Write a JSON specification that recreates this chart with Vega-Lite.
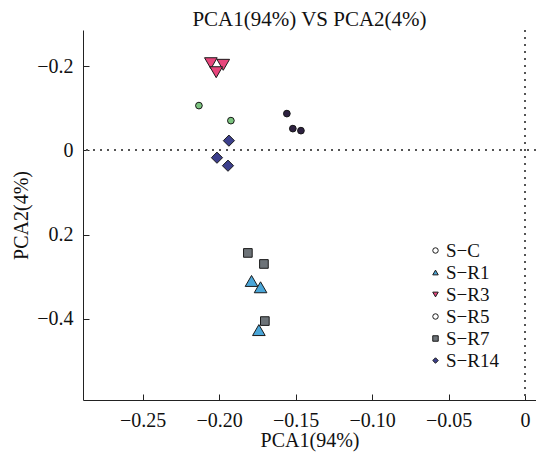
{
  "$schema": "https://vega.github.io/schema/vega-lite/v6.json",
  "width": 453,
  "height": 370,
  "autosize": "none",
  "padding": {"left": 83, "top": 30, "right": 0, "bottom": 60},
  "background": "white",
  "config": {
    "font": "Liberation Serif",
    "view": {"stroke": null},
    "axis": {"grid": false, "domainColor": "#222", "tickColor": "#222", "labelColor": "#111", "titleColor": "#111", "labelFontSize": 20, "titleFontSize": 20, "titleFontWeight": "normal", "labelFont": "Liberation Serif", "titleFont": "Liberation Serif", "tickSize": -6, "labelPadding": 16},
    "legend": {"symbolStrokeWidth": 1}
  },
  "title": {"text": "PCA1(94%) VS PCA2(4%)", "fontSize": 21, "fontWeight": "normal", "font": "Liberation Serif", "color": "#111", "anchor": "middle", "offset": -1},
  "data": {"values": [
    {"group": "S−C", "x": -0.2132, "y": -0.1064},
    {"group": "S−C", "x": -0.1923, "y": -0.0707},
    {"group": "S−R5", "x": -0.1557, "y": -0.0874},
    {"group": "S−R5", "x": -0.1518, "y": -0.0517},
    {"group": "S−R5", "x": -0.1465, "y": -0.0469},
    {"group": "S−R3", "x": -0.2054, "y": -0.2071},
    {"group": "S−R3", "x": -0.1973, "y": -0.2033},
    {"group": "S−R3", "x": -0.2019, "y": -0.1857},
    {"group": "S−R14", "x": -0.1936, "y": -0.0231},
    {"group": "S−R14", "x": -0.2014, "y": 0.0174},
    {"group": "S−R14", "x": -0.1942, "y": 0.0364},
    {"group": "S−R7", "x": -0.1812, "y": 0.2436},
    {"group": "S−R7", "x": -0.1707, "y": 0.2698},
    {"group": "S−R7", "x": -0.1701, "y": 0.4055},
    {"group": "S−R1", "x": -0.1788, "y": 0.3102},
    {"group": "S−R1", "x": -0.1729, "y": 0.3252},
    {"group": "S−R1", "x": -0.1740, "y": 0.4269}
  ]},
  "encoding": {
    "x": {"field": "x", "type": "quantitative",
      "scale": {"domain": [-0.289, 0.0072], "nice": false, "zero": false},
      "axis": {"values": [-0.25, -0.2, -0.15, -0.1, -0.05, 0], "labelExpr": "datum.value == 0 ? '0' : format(datum.value, '.2f')", "title": "PCA1(94%)", "titlePadding": 0}},
    "y": {"field": "y", "type": "quantitative",
      "scale": {"domain": [-0.286, 0.593], "nice": false, "zero": false, "reverse": true},
      "axis": {"values": [-0.2, 0, 0.2, 0.4], "labelExpr": "datum.value == 0 ? '0' : (datum.value > 0.3 ? '−0.4' : format(datum.value, '.1f'))", "title": "PCA2(4%)", "titlePadding": 5}}
  },
  "layer": [
    {
      "mark": {"type": "rule", "strokeDash": [2, 5], "color": "#555", "strokeWidth": 1.2},
      "encoding": {"y": {"datum": 0, "type": "quantitative"}, "x": null}
    },
    {
      "mark": {"type": "rule", "strokeDash": [2, 5], "color": "#555", "strokeWidth": 1.2},
      "encoding": {"x": {"datum": 0, "type": "quantitative"}, "y": null}
    },
    {
      "mark": {"type": "point", "strokeWidth": 1, "opacity": 1, "size": 30},
      "encoding": {
        "fill": {"field": "group", "type": "nominal",
          "scale": {"domain": ["S−C", "S−R1", "S−R3", "S−R5", "S−R7", "S−R14"], "range": ["#ffffff", "#4aa6d8", "#e8457c", "#ffffff", "#6d7378", "#3c3f8c"]},
          "legend": {"title": null, "orient": "none", "legendX": 343, "legendY": 211, "labelFontSize": 19, "labelFont": "Liberation Serif", "labelColor": "#111", "symbolSize": 30, "rowPadding": 2, "labelOffset": 1}},
        "stroke": {"field": "group", "type": "nominal",
          "scale": {"domain": ["S−C", "S−R1", "S−R3", "S−R5", "S−R7", "S−R14"], "range": ["#1a1a1a", "#1a1a1a", "#1a1a1a", "#1a1a1a", "#1a1a1a", "#1a1a1a"]},
          "legend": {"title": null, "orient": "none", "legendX": 343, "legendY": 211, "labelFontSize": 19, "labelFont": "Liberation Serif", "labelColor": "#111", "symbolSize": 30, "rowPadding": 2, "labelOffset": 1}},
        "shape": {"field": "group", "type": "nominal",
          "scale": {"domain": ["S−C", "S−R1", "S−R3", "S−R5", "S−R7", "S−R14"], "range": ["circle", "triangle-up", "triangle-down", "circle", "square", "diamond"]},
          "legend": {"title": null, "orient": "none", "legendX": 343, "legendY": 211, "labelFontSize": 19, "labelFont": "Liberation Serif", "labelColor": "#111", "symbolSize": 30, "rowPadding": 2, "labelOffset": 1}}
      }
    },
    {
      "mark": {"type": "point", "filled": true, "stroke": "#1a1a1a", "strokeWidth": 1, "opacity": 1},
      "encoding": {
        "color": {"field": "group", "type": "nominal",
          "scale": {"domain": ["S−C", "S−R1", "S−R3", "S−R5", "S−R7", "S−R14"], "range": ["#7cc480", "#4aa6d8", "#e8457c", "#2d2140", "#6d7378", "#3c3f8c"]},
          "legend": null},
        "shape": {"field": "group", "type": "nominal"},
        "size": {
          "condition": [
            {"test": "datum.group == 'S−R1' || datum.group == 'S−R3'", "value": 160},
            {"test": "datum.group == 'S−R14'", "value": 125},
            {"test": "datum.group == 'S−R7'", "value": 75}
          ],
          "value": 45
        }
      }
    }
  ]
}
